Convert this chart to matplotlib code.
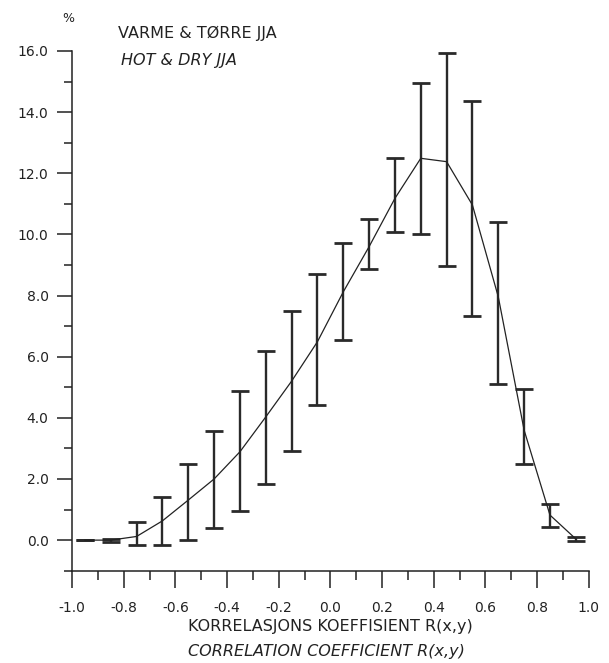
import matplotlib
matplotlib.use("Agg")
import matplotlib.pyplot as plt
import numpy as np
from matplotlib.ticker import MultipleLocator, FormatStrFormatter

plt.rcParams['font.family'] = ['DejaVu Sans']
plt.rcParams['axes.unicode_minus'] = False

# bin centres of the correlation coefficient
r_centers = [-0.95, -0.85, -0.75, -0.65, -0.55, -0.45, -0.35, -0.25, -0.15, -0.05,
             0.05, 0.15, 0.25, 0.35, 0.45, 0.55, 0.65, 0.75, 0.85, 0.95]
# mean frequency (%)
mean_pct = [0.0, 0.0, 0.12, 0.63, 1.31, 2.0, 2.89, 4.03, 5.2, 6.49,
            8.12, 9.60, 11.18, 12.49, 12.38, 10.96, 7.96, 3.60, 0.82, 0.04]
# upper and lower limits of the error bars (%)
upper_pct = [0.0, 0.05, 0.6, 1.41, 2.48, 3.57, 4.88, 6.19, 7.48, 8.69,
             9.71, 10.50, 12.49, 14.96, 15.93, 14.38, 10.42, 4.93, 1.17, 0.11]
lower_pct = [0.0, -0.05, -0.16, -0.16, 0.02, 0.40, 0.95, 1.83, 2.9, 4.42,
             6.54, 8.87, 10.09, 10.00, 8.98, 7.34, 5.10, 2.49, 0.43, -0.03]

title_no = "VARME & TØRRE JJA"
title_en = "HOT & DRY JJA"
xlabel_no = "KORRELASJONS KOEFFISIENT R(x,y)"
xlabel_en = "CORRELATION COEFFICIENT R(x,y)"

W, H = 609, 663
fig = plt.figure(figsize=(W / 100, H / 100), dpi=100)
ax = fig.add_axes([72 / W, 1 - 570.7 / H, (588.7 - 72) / W, (570.7 - 51) / H])

m = np.array(mean_pct)
yerr = [m - np.array(lower_pct), np.array(upper_pct) - m]
ax.errorbar(r_centers, mean_pct, yerr=yerr, fmt='none', ecolor='#2a2a2a',
            elinewidth=1.7, capsize=6.8, capthick=2.0, zorder=2)
ax.plot(r_centers, mean_pct, color='#222222', lw=0.9, zorder=3)

ax.set_xlim(-1.0, 1.0)
ax.set_ylim(-1.0, 16.0)
for s in ['top', 'right']:
    ax.spines[s].set_visible(False)
for s in ['left', 'bottom']:
    ax.spines[s].set_linewidth(1.1)
    ax.spines[s].set_color('#222222')

ax.xaxis.set_major_locator(MultipleLocator(0.2))
ax.xaxis.set_minor_locator(MultipleLocator(0.1))
ax.xaxis.set_major_formatter(FormatStrFormatter('%.1f'))
ax.yaxis.set_major_locator(MultipleLocator(2.0))
ax.yaxis.set_minor_locator(MultipleLocator(1.0))
ax.yaxis.set_major_formatter(FormatStrFormatter('%.1f'))
ax.set_yticks(np.arange(0, 16.1, 2.0))

ax.tick_params(axis='x', which='major', direction='out', length=12, width=1.1,
               pad=10, labelsize=10, colors='#222222')
ax.tick_params(axis='x', which='minor', direction='out', length=6.5, width=1.1,
               colors='#222222')
ax.tick_params(axis='y', which='major', direction='out', length=10.8, width=1.1,
               pad=6, labelsize=10, colors='#222222')
ax.tick_params(axis='y', which='minor', direction='out', length=5.8, width=1.1,
               colors='#222222')

def fx(px):
    return px / W

def fy(py):
    return 1 - py / H

fig.text(fx(68), fy(18), "%", ha='center', va='center', fontsize=9, color='#222222')
fig.text(fx(118), fy(33), title_no, ha='left', va='center', fontsize=11.5,
         color='#222222')
fig.text(fx(121), fy(60), title_en, ha='left', va='center', fontsize=11.5,
         style='italic', color='#222222')
fig.text(fx(330), fy(626.7), xlabel_no, ha='center', va='center', fontsize=11.5,
         color='#222222')
fig.text(fx(326.5), fy(651.7), xlabel_en, ha='center', va='center', fontsize=11.5,
         style='italic', color='#222222')

fig.savefig("out.png", dpi=100)
